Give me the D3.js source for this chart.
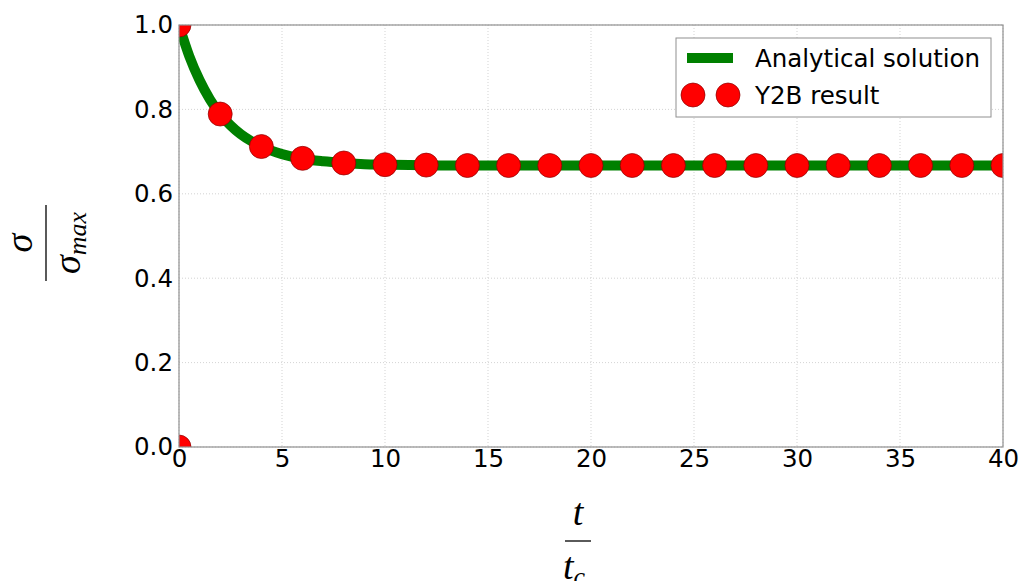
<!DOCTYPE html>
<html><head><meta charset="utf-8">
<script src="https://cdn.jsdelivr.net/npm/d3@7"></script>
<style>body{margin:0;background:#fff;} svg{display:block;}</style>
</head><body>
<script>
// Analytical solution
const lineT = [0,0.5,1,1.5,2,2.5,3,3.5,4,5,6,7,8,9,10,12,14,16,20,30,40];
const lineV = [1.0,0.926,0.869,0.824,0.789,0.762,0.741,0.725,0.712,0.694,0.683,0.677,0.673,0.670,0.669,0.6675,0.667,0.667,0.667,0.667,0.667];
// Y2B result markers
const ptT = [0,0,2,4,6,8,10,12,14,16,18,20,22,24,26,28,30,32,34,36,38,40];
const ptV = [0,1.0,0.789,0.712,0.684,0.673,0.669,0.668,0.667,0.667,0.667,0.667,0.667,0.667,0.667,0.667,0.667,0.667,0.667,0.667,0.667,0.667];
const xTicks = [0,5,10,15,20,25,30,35,40];
const yTicks = [0,0.2,0.4,0.6,0.8,1.0];
const legendLabels = ["Analytical solution","Y2B result"];

const W=1021,H=581;
const L=179,R=1003,T=25,B=447;
const svg=d3.select("body").append("svg").attr("width",W).attr("height",H);
const x=d3.scaleLinear().domain([0,40]).range([L,R]);
const y=d3.scaleLinear().domain([0,1]).range([B,T]);
const font="DejaVu Sans, sans-serif";
const fs=24.5;

// grid
const g=svg.append("g");
g.selectAll(".gx").data(xTicks).enter().append("line")
 .attr("x1",d=>x(d)).attr("x2",d=>x(d)).attr("y1",T).attr("y2",B)
 .attr("stroke","#c8c8c8").attr("stroke-width",0.8).attr("stroke-dasharray","1,2");
g.selectAll(".gy").data(yTicks).enter().append("line")
 .attr("x1",L).attr("x2",R).attr("y1",d=>y(d)).attr("y2",d=>y(d))
 .attr("stroke","#c8c8c8").attr("stroke-width",0.8).attr("stroke-dasharray","1,2");

svg.append("clipPath").attr("id","clip").append("rect").attr("x",L).attr("y",T).attr("width",R-L).attr("height",B-T);
const plot=svg.append("g").attr("clip-path","url(#clip)");
const lineData=lineT.map((t,i)=>[t,lineV[i]]);
plot.append("path").datum(lineData)
 .attr("d",d3.line().x(d=>x(d[0])).y(d=>y(d[1])).curve(d3.curveMonotoneX))
 .attr("fill","none").attr("stroke","#008000").attr("stroke-width",10);
plot.selectAll(".pt").data(ptT.map((t,i)=>[t,ptV[i]])).enter().append("circle")
 .attr("cx",d=>x(d[0])).attr("cy",d=>y(d[1])).attr("r",12)
 .attr("fill","#ff0000").attr("stroke","#8b0000").attr("stroke-width",0.7);

// frame
svg.append("rect").attr("x",L).attr("y",T).attr("width",R-L).attr("height",B-T)
 .attr("fill","none").attr("stroke","#909090").attr("stroke-width",1.2);

// axes (labels only)
const xa=svg.append("g").attr("transform",`translate(0,${B})`)
 .call(d3.axisBottom(x).tickValues(xTicks).tickFormat(d3.format("d")).tickSize(0).tickPadding(3));
xa.select(".domain").remove();
xa.selectAll("text").attr("font-family",font).attr("font-size",fs).attr("fill","#000");
const ya=svg.append("g").attr("transform",`translate(${L},0)`)
 .call(d3.axisLeft(y).tickValues(yTicks).tickFormat(d3.format(".1f")).tickSize(0).tickPadding(6));
ya.select(".domain").remove();
ya.selectAll("text").attr("font-family",font).attr("font-size",fs).attr("fill","#000");

// x label: t / t_c
const mf="Liberation Serif, DejaVu Serif, serif";
const xl=svg.append("g").attr("transform","translate(578,541)");
xl.append("text").attr("x",0).attr("y",-16).attr("text-anchor","middle").attr("font-family",mf).attr("font-style","italic").attr("font-size",38).text("t");
xl.append("line").attr("x1",-13).attr("x2",13).attr("y1",0).attr("y2",0).attr("stroke","#000").attr("stroke-width",1.3);
const tc=xl.append("text").attr("x",-4).attr("y",38).attr("text-anchor","middle").attr("font-family",mf).attr("font-style","italic").attr("font-size",38);
tc.append("tspan").text("t");
tc.append("tspan").attr("font-size",26).attr("dy",6).text("c");

// y label: sigma / sigma_max (rotated)
const yl=svg.append("g").attr("transform","translate(46,243) rotate(-90)");
yl.append("text").attr("x",0).attr("y",-14).attr("text-anchor","middle").attr("font-family",mf).attr("font-style","italic").attr("font-size",38).text("σ");
yl.append("line").attr("x1",-38).attr("x2",38).attr("y1",0).attr("y2",0).attr("stroke","#000").attr("stroke-width",1.3);
const sm=yl.append("text").attr("x",0).attr("y",34).attr("text-anchor","middle").attr("font-family",mf).attr("font-style","italic").attr("font-size",38);
sm.append("tspan").text("σ");
sm.append("tspan").attr("font-size",26).attr("dy",6).text("max");

// legend
const lg=svg.append("g");
lg.append("rect").attr("x",676).attr("y",38).attr("width",315).attr("height",79)
 .attr("fill","#fff").attr("stroke","#909090").attr("stroke-width",1);
lg.append("line").attr("x1",687).attr("x2",733).attr("y1",58).attr("y2",58).attr("stroke","#008000").attr("stroke-width",10);
[693,728].forEach(cx=>lg.append("circle").attr("cx",cx).attr("cy",95).attr("r",12).attr("fill","#ff0000").attr("stroke","#8b0000").attr("stroke-width",0.7));
lg.selectAll(".lt").data(legendLabels).enter().append("text")
 .attr("x",755).attr("y",(d,i)=>67+i*37).attr("font-family",font).attr("font-size",fs).attr("fill","#000").text(d=>d);
</script>
</body></html>
